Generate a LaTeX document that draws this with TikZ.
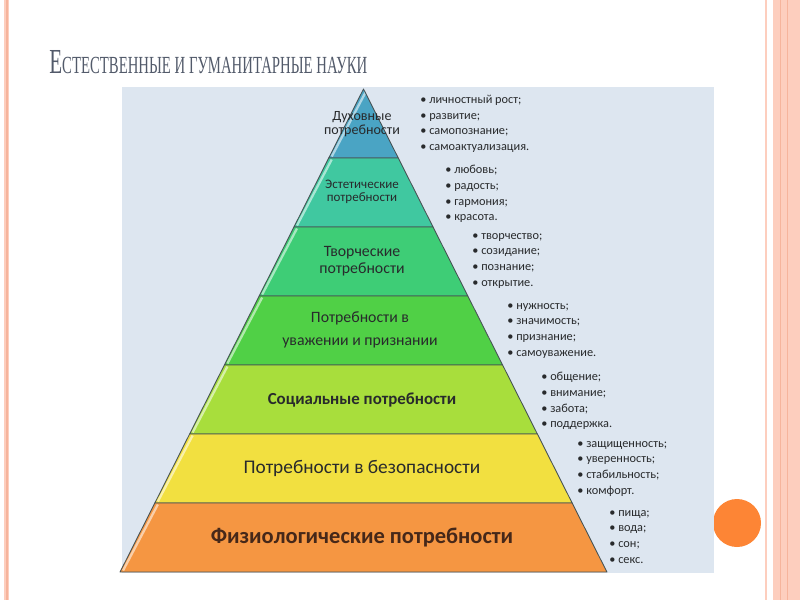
\documentclass[tikz,border=0pt]{standalone}
\usepackage{fontspec}
\usepackage{graphicx}
\setmainfont{Carlito}
\newfontfamily\titlefont{Liberation Serif}
\usetikzlibrary{positioning}
\definecolor{panelBlue}{RGB}{221,230,240}
\definecolor{edgeGray}{RGB}{70,82,84}
\definecolor{txtDark}{RGB}{40,42,44}
\definecolor{txtBrown}{RGB}{70,40,25}
\definecolor{titleGray}{RGB}{82,90,106}
\definecolor{lvlA}{RGB}{74,164,196}
\definecolor{lvlB}{RGB}{64,200,160}
\definecolor{lvlC}{RGB}{62,205,118}
\definecolor{lvlD}{RGB}{80,208,70}
\definecolor{lvlE}{RGB}{168,222,60}
\definecolor{lvlF}{RGB}{242,224,64}
\definecolor{lvlG}{RGB}{245,150,66}
\definecolor{stripePink}{RGB}{253,206,190}
\definecolor{stripeDark}{RGB}{246,180,156}
\definecolor{dotOrange}{RGB}{253,133,53}
\tikzset{
  layer/.style={draw=edgeGray, line width=0.5pt, line join=round},
  bevel/.style={white, opacity=0.55, line width=1.3pt},
  lvltext/.style={align=center, text=txtDark, inner sep=0pt},
  items/.style={align=left, anchor=north west, inner sep=0pt, text=txtDark, font=\fontsize{7}{8.9}\selectfont}
}
\newcommand{\fsz}[2]{\fontsize{#1}{#2}\selectfont}

\begin{document}
\begin{tikzpicture}[x=0.02cm, y=-0.02cm]
  \useasboundingbox (0,0) rectangle (800,600);
  % slide frame
  \fill[stripePink] (4,0) rectangle (9,600);
  \fill[stripeDark] (6,0) rectangle (7.5,600);
  \fill[stripePink] (765,0) rectangle (767,600);
  \fill[stripePink] (773,0) rectangle (800,600);
  \fill[stripeDark] (779.5,0) rectangle (781,600);
  \fill[stripeDark] (786.5,0) rectangle (788,600);
  \fill[dotOrange] (737,523) circle (24);

  \node[anchor=base west, inner sep=0pt, text=titleGray] (title) at (49,73)
    {\titlefont\resizebox{181pt}{\height}{\fsz{20}{22}Е\fsz{14}{16}СТЕСТВЕННЫЕ И ГУМАНИТАРНЫЕ НАУКИ}};

  \fill[panelBlue] (122,87) rectangle (714,573);

  % pyramid layers
  \foreach \i/\col in {0/lvlA,1/lvlB,2/lvlC,3/lvlD,4/lvlE,5/lvlF,6/lvlG} {
    \pgfmathsetmacro{\ya}{89+69*\i}
    \pgfmathsetmacro{\yb}{\ya+69}
    \pgfmathsetmacro{\wa}{0.504*(\ya-89)}
    \pgfmathsetmacro{\wb}{0.504*(\yb-89)}
    \begin{scope}
      \clip (363.5-\wa,\ya) -- (363.5+\wa,\ya) -- (363.5+\wb,\yb) -- (363.5-\wb,\yb) -- cycle;
      \fill[\col] (363.5-\wa,\ya) -- (363.5+\wa,\ya) -- (363.5+\wb,\yb) -- (363.5-\wb,\yb) -- cycle;
      \draw[bevel] (366.5-\wb,\yb-1.5) -- (366.5-\wa,\ya+1.5);
    \end{scope}
    \draw[layer] (363.5-\wa,\ya) -- (363.5+\wa,\ya) -- (363.5+\wb,\yb) -- (363.5-\wb,\yb) -- cycle;
  }

  % level labels
  \node[lvltext, font=\fsz{8}{8.2}] (lvl1) at (362,124) {Духовные\\потребности};
  \node[lvltext, font=\fsz{7.4}{7.7}] (lvl2) at (362,192) {Эстетические\\потребности};
  \node[lvltext, font=\fsz{9}{9.6}] (lvl3) at (362,261) {Творческие\\потребности};
  \node[lvltext, font=\fsz{9}{13}] (lvl4) at (360,330) {Потребности в\\уважении и признании};
  \node[lvltext, font=\bfseries\fsz{9.6}{12}] (lvl5) at (362,400) {Социальные потребности};
  \node[lvltext, font=\fsz{11}{13}] (lvl6) at (362,468) {Потребности в безопасности};
  \node[lvltext, font=\bfseries\fsz{12.8}{14}, text=txtBrown] (lvl7) at (362,538) {Физиологические потребности};

  % bullet lists
  \node[items] (list1) at (420,95) {• личностный рост;\\• развитие;\\• самопознание;\\• самоактуализация.};
  \node[items] (list2) at (445,165) {• любовь;\\• радость;\\• гармония;\\• красота.};
  \node[items] (list3) at (472,233) {• творчество;\\• созидание;\\• познание;\\• открытие.};
  \node[items] (list4) at (507,303) {• нужность;\\• значимость;\\• признание;\\• самоуважение.};
  \node[items] (list5) at (541,372) {• общение;\\• внимание;\\• забота;\\• поддержка.};
  \node[items] (list6) at (577,441) {• защищенность;\\• уверенность;\\• стабильность;\\• комфорт.};
  \node[items] (list7) at (609,510) {• пища;\\• вода;\\• сон;\\• секс.};
\end{tikzpicture}
\end{document}
